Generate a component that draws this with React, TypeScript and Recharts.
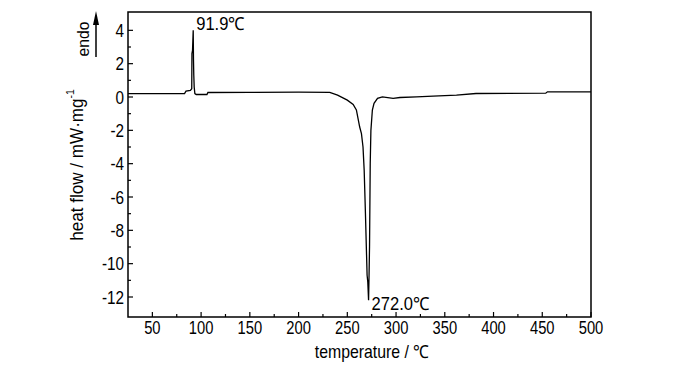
import { LineChart, Line, XAxis, YAxis, ReferenceArea, ReferenceDot } from 'recharts';

// DSC trace
const temperature = [
  25, 60, 83, 84.5, 89, 90.4, 90.6, 91.2, 91.9, 92.2, 92.5, 92.9, 93.6, 95, 106, 107,
  150, 200, 232, 240, 250, 256, 259.3, 262.7, 264.5, 266.1, 267.3, 268.6, 270.3, 271.0,
  271.8, 272.3, 272.8, 273.5, 274.2, 275.7, 277.4, 281, 286, 297, 304, 321, 338, 362,
  382, 453.6, 455.3, 500,
];
const heatFlow = [
  0.2, 0.2, 0.21, 0.35, 0.4, 0.5, 2.6, 2.8, 4.0, 2.2, 1.3, 0.6, 0.2, 0.15, 0.15, 0.27,
  0.28, 0.29, 0.28, 0.11, -0.19, -0.45, -0.78, -1.8, -2.2, -3.0, -4.4, -7.0, -10.7, -11.1,
  -12.2, -10.7, -8.95, -4.0, -2.0, -0.78, -0.38, -0.08, 0.01, -0.08, -0.03, 0.01, 0.05, 0.11,
  0.21, 0.23, 0.31, 0.31,
];

const xTicks = [50, 75, 100, 125, 150, 175, 200, 225, 250, 275, 300, 325, 350, 375, 400, 425, 450, 475, 500];
const yTicks = [-12, -11, -10, -9, -8, -7, -6, -5, -4, -3, -2, -1, 0, 1, 2, 3, 4];
const xDomain = [25, 500];
const yDomain = [-13.2, 5.1];

const peaks = [
  { t: 91.9, v: 4.0, text: '91.9℃', dx: 3, dy: 0 },
  { t: 271.8, v: -12.2, text: '272.0℃', dx: 3, dy: 10 },
];

const data = temperature.map((t, i) => ({ t, heat: heatFlow[i] }));

const FONT = '"Liberation Sans", Arial, sans-serif';

const XTick = (props: any) => {
  const { x, y, payload } = props;
  const major = payload.value % 50 === 0;
  return (
    <g>
      <line x1={x} x2={x} y1={y} y2={y - (major ? 5 : 3)} stroke="#000" strokeWidth={1.2} />
      {major && (
        <text
          x={0}
          y={0}
          transform={`translate(${x} ${y + 16.5}) scale(0.82 1)`}
          textAnchor="middle"
          fontSize={18}
          fontFamily={FONT}
          fill="#000"
        >
          {payload.value}
        </text>
      )}
    </g>
  );
};

const YTick = (props: any) => {
  const { x, y, payload } = props;
  const major = payload.value % 2 === 0;
  return (
    <g>
      <line x1={x} x2={x + (major ? 5 : 3)} y1={y} y2={y} stroke="#000" strokeWidth={1.2} />
      {major && (
        <text
          x={0}
          y={0}
          transform={`translate(${x - 4} ${y + 6.5}) scale(0.85 1)`}
          textAnchor="end"
          fontSize={18}
          fontFamily={FONT}
          fill="#000"
        >
          {payload.value}
        </text>
      )}
    </g>
  );
};

const XLabel = () => (
  <text
    transform="translate(372 358) scale(0.88 1)"
    textAnchor="middle"
    fontSize={18}
    fontFamily={FONT}
    fill="#000"
  >
    temperature / ℃
  </text>
);

const YLabel = () => (
  <g fontFamily={FONT} fill="#000">
    <text
      transform="translate(77 165) rotate(-90) scale(0.95 1)"
      textAnchor="middle"
      dominantBaseline="central"
      fontSize={18}
    >
      heat flow / mW·mg<tspan dy={-7} fontSize={11}>-1</tspan>
    </text>
    <text
      transform="translate(83 39) rotate(-90) scale(0.92 1)"
      textAnchor="middle"
      dominantBaseline="central"
      fontSize={17}
    >
      endo
    </text>
    <line x1={96} x2={96} y1={57} y2={22} stroke="#000" strokeWidth={1.5} />
    <polygon points="96,11 93,25 99,25" fill="#000" />
  </g>
);

const peakLabel = (text: string, dx: number, dy: number) => (props: any) => {
  const { viewBox } = props;
  return (
    <text
      x={0}
      y={0}
      transform={`translate(${viewBox.x + dx} ${viewBox.y + dy}) scale(0.92 1)`}
      fontSize={18}
      fontFamily={FONT}
      fill="#000"
    >
      {text}
    </text>
  );
};

export default function App() {
  return (
    <div style={{ position: 'absolute', left: 0, top: 0, background: '#fff' }}>
      <LineChart width={700} height={373} data={data} margin={{ top: 12, right: 109, bottom: 0, left: 0 }}>
        <XAxis
          dataKey="t"
          type="number"
          domain={xDomain}
          ticks={xTicks}
          interval={0}
          allowDataOverflow
          axisLine={false}
          tickLine={false}
          tickSize={0}
          tickMargin={0}
          height={56}
          tick={<XTick />}
          label={{ content: () => <XLabel /> }}
        />
        <YAxis
          type="number"
          domain={yDomain}
          ticks={yTicks}
          interval={0}
          allowDataOverflow
          axisLine={false}
          tickLine={false}
          tickSize={0}
          tickMargin={0}
          width={128}
          tick={<YTick />}
          label={{ content: () => <YLabel /> }}
        />
        <ReferenceArea
          x1={xDomain[0]}
          x2={xDomain[1]}
          y1={yDomain[0]}
          y2={yDomain[1]}
          fill="none"
          stroke="#000"
          strokeWidth={1.5}
          fillOpacity={0}
          ifOverflow="visible"
        />
        <Line
          dataKey="heat"
          type="linear"
          stroke="#000"
          strokeWidth={1.3}
          dot={false}
          isAnimationActive={false}
        />
        {peaks.map(p => (
          <ReferenceDot
            key={p.text}
            x={p.t}
            y={p.v}
            r={0}
            fill="none"
            stroke="none"
            label={{ content: peakLabel(p.text, p.dx, p.dy) }}
          />
        ))}
      </LineChart>
    </div>
  );
}
